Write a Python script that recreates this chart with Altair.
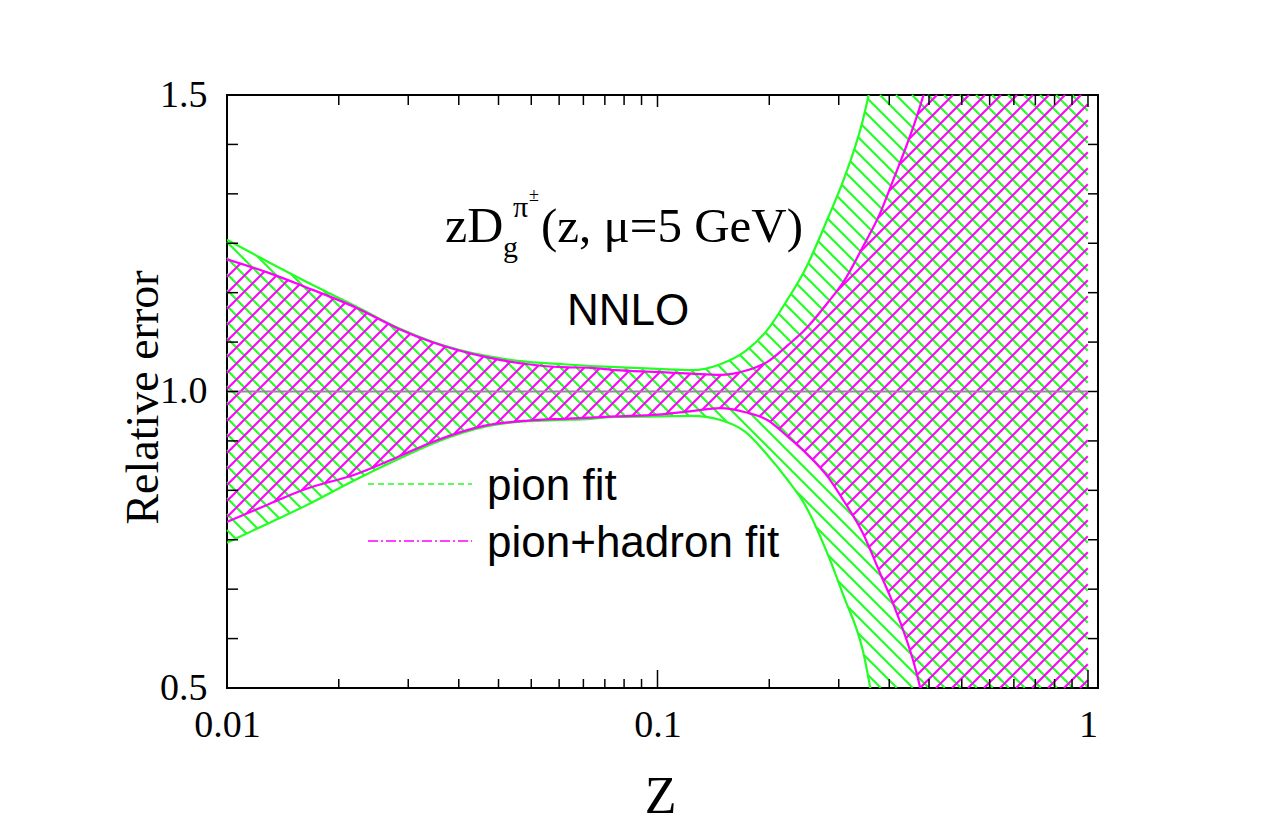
import numpy as np
import pandas as pd
import altair as alt

# Relative uncertainty bands of the gluon fragmentation function zD_g^{pi+-}
z = [0.01, 0.0125, 0.015, 0.02, 0.025, 0.03, 0.04, 0.05, 0.06, 0.07, 0.08,
     0.1, 0.12, 0.14, 0.16, 0.18, 0.2, 0.22, 0.25, 0.27, 0.3, 0.33, 0.35,
     0.4, 0.45, 0.5, 0.6, 0.8, 1.0]
pion_hi = [1.256, 1.218, 1.188, 1.143, 1.107, 1.084, 1.060, 1.050, 1.046, 1.043, 1.041,
           1.038, 1.036, 1.046, 1.068, 1.104, 1.154, 1.205, 1.296, 1.355, 1.458, 1.60, 1.70,
           1.95, 2.2, 2.45, 2.9, 3.8, 4.6]
pion_lo = [0.745, 0.778, 0.805, 0.852, 0.886, 0.912, 0.941, 0.950, 0.952, 0.954, 0.957,
           0.958, 0.959, 0.952, 0.932, 0.893, 0.852, 0.809, 0.721, 0.657, 0.563, 0.40, 0.30,
           0.05, -0.2, -0.45, -0.9, -1.8, -2.6]
hadron_hi = [1.223, 1.200, 1.178, 1.141, 1.106, 1.083, 1.058, 1.046, 1.041, 1.040, 1.036,
             1.033, 1.030, 1.028, 1.035, 1.050, 1.077, 1.104, 1.152, 1.184, 1.244, 1.303, 1.350,
             1.463, 1.59, 1.72, 2.0, 2.6, 3.2]
hadron_lo = [0.780, 0.810, 0.834, 0.861, 0.890, 0.915, 0.943, 0.951, 0.954, 0.956, 0.958,
             0.961, 0.967, 0.972, 0.965, 0.952, 0.925, 0.898, 0.854, 0.817, 0.761, 0.691, 0.648,
             0.525, 0.35, 0.21, -0.1, -0.6, -1.0]
central = [1.0, 1.0]
central_z = [z[0], z[-1]]

x_labels = [0.01, 0.1, 1]
y_labels = [0.5, 1.0, 1.5]
minor_steps = [1 + 9 * k / 11 for k in range(1, 11)]
x_minor = [d * m for d in (0.01, 0.1) for m in minor_steps]
y_minor = [0.5 + k / 12 for k in range(1, 12) if k != 6]

GREEN = "#22ff22"
MAGENTA = "#ff00ff"

W, H = 871, 593
X_DOM = [0.01, 1.055]
Y_DOM = [0.5, 1.5]
PX_DEC = W / np.log10(X_DOM[1] / X_DOM[0])
PX_Y = H / (Y_DOM[1] - Y_DOM[0])


def monotone_x(xn, yn, xq):
    """Evaluate the monotone cubic used for the edge lines (same as Vega's 'monotone')."""
    xn, yn = np.asarray(xn, float), np.asarray(yn, float)
    n = len(xn)
    h = np.diff(xn)
    s = np.diff(yn) / h
    t = np.zeros(n)
    sg = lambda a: -1.0 if a < 0 else 1.0
    for i in range(1, n - 1):
        h0, h1, s0, s1 = h[i - 1], h[i], s[i - 1], s[i]
        p = (s0 * h1 + s1 * h0) / (h0 + h1)
        t[i] = (sg(s0) + sg(s1)) * min(abs(s0), abs(s1), 0.5 * abs(p))
    t[0] = (3 * s[0] - t[1]) / 2
    t[-1] = (3 * s[-1] - t[-2]) / 2
    i = np.clip(np.searchsorted(xn, xq, side="right") - 1, 0, n - 2)
    dx = h[i]
    tau = (xq - xn[i]) / dx
    y0, y1 = yn[i], yn[i + 1]
    c1 = y0 + dx * t[i] / 3
    c2 = y1 - dx * t[i + 1] / 3
    om = 1 - tau
    return om ** 3 * y0 + 3 * om ** 2 * tau * c1 + 3 * om * tau ** 2 * c2 + tau ** 3 * y1


def hatch(lo_arr, hi_arr, spacing, sign, phase=0.0):
    """Straight 45-degree hatch segments clipped to the band between lo and hi."""
    u_nodes = PX_DEC * (np.log10(np.array(z)) - np.log10(X_DOM[0]))
    u = np.arange(0.0, u_nodes[-1] + 1e-9, 0.25)
    lo = np.clip(monotone_x(u_nodes, lo_arr, u), *Y_DOM)
    hi = np.clip(monotone_x(u_nodes, hi_arr, u), *Y_DOM)
    if sign > 0:
        cs = np.arange(-u_nodes[-1] + phase, H, spacing)
    else:
        cs = np.arange(phase, H + u_nodes[-1], spacing)
    rows = []
    for c in cs:
        py = sign * u + c
        v = Y_DOM[1] - py / PX_Y
        inside = (v >= lo - 1e-9) & (v <= hi + 1e-9)
        edges = np.flatnonzero(np.diff(np.concatenate([[0], inside.astype(int), [0]])))
        for a, b in zip(edges[::2], edges[1::2] - 1):
            if b > a:
                rows.append({
                    "z0": 10 ** (u[a] / PX_DEC + np.log10(X_DOM[0])), "v0": v[a],
                    "z1": 10 ** (u[b] / PX_DEC + np.log10(X_DOM[0])), "v1": v[b],
                })
    return pd.DataFrame(rows)


xs = alt.Scale(type="log", domain=X_DOM, nice=False)
ys = alt.Scale(domain=Y_DOM, nice=False, zero=False)

x_axis = alt.Axis(values=x_labels, format="~g", ticks=False, tickSize=0, domain=False,
                  grid=False, labelFont="Liberation Serif", labelFontSize=38,
                  labelColor="black", labelPadding=48, labelBaseline="alphabetic",
                  labelFlush=False, labelOverlap=False, title="Z",
                  titleFont="Liberation Serif", titleFontSize=52, titleFontWeight="normal",
                  titleColor="black", titleX=433, titleY=124, titleBaseline="alphabetic")
y_axis = alt.Axis(values=y_labels, format=".1f", ticks=False, tickSize=0, domain=False,
                  grid=False, labelFont="Liberation Serif", labelFontSize=38,
                  labelColor="black", labelPadding=20, labelFlush=False, labelOverlap=False,
                  title="Relative error", titleFont="Liberation Serif", titleFontSize=46,
                  titleFontWeight="normal", titleColor="black", titleAngle=270,
                  titleX=-70, titleY=302, titleBaseline="alphabetic", titleAlign="center")


def X(field):
    return alt.X(field, type="quantitative", scale=xs, axis=x_axis)


def Y(field):
    return alt.Y(field, type="quantitative", scale=ys, axis=y_axis)


green_hatch = alt.Chart(hatch(pion_lo, pion_hi, 16.0, +1)).mark_rule(
    color=GREEN, strokeWidth=2.1).encode(x=X("z0"), x2="z1", y=Y("v0"), y2="v1")
magenta_hatch = alt.Chart(hatch(hadron_lo, hadron_hi, 16.0, -1, 6.0)).mark_rule(
    color=MAGENTA, strokeWidth=2.1).encode(x=X("z0"), x2="z1", y=Y("v0"), y2="v1")

edges = pd.DataFrame({
    "z": z * 4,
    "v": pion_hi + pion_lo + hadron_hi + hadron_lo,
    "edge": ["pion_hi"] * len(z) + ["pion_lo"] * len(z)
            + ["hadron_hi"] * len(z) + ["hadron_lo"] * len(z),
})
green_edges = alt.Chart(edges[edges.edge.str.startswith("pion")]).mark_line(
    color=GREEN, strokeWidth=2.2, clip=True, interpolate="monotone").encode(
    x=X("z"), y=Y("v"), detail="edge:N")
magenta_edges = alt.Chart(edges[edges.edge.str.startswith("hadron")]).mark_line(
    color=MAGENTA, strokeWidth=2.2, clip=True, interpolate="monotone").encode(
    x=X("z"), y=Y("v"), detail="edge:N")

center = alt.Chart(pd.DataFrame({"z": central_z, "v": central})).mark_line(
    color="#a57ca5", strokeWidth=1.8).encode(x=X("z"), y=Y("v"))

# inward ticks on all four sides of the frame
xt_major = pd.DataFrame({"t": x_labels})
xt_minor = pd.DataFrame({"t": x_minor})
yt_minor = pd.DataFrame({"t": y_minor})
yt_major = pd.DataFrame({"t": [1.0]})
tick_style = dict(color="black", strokeWidth=1.5)
ticks = [
    alt.Chart(xt_major).mark_rule(**tick_style).encode(x=X("t"), y=alt.value(H), y2=alt.value(H - 18)),
    alt.Chart(xt_minor).mark_rule(**tick_style).encode(x=X("t"), y=alt.value(H), y2=alt.value(H - 9)),
    alt.Chart(xt_major).mark_rule(**tick_style).encode(x=X("t"), y=alt.value(0), y2=alt.value(12)),
    alt.Chart(xt_minor).mark_rule(**tick_style).encode(x=X("t"), y=alt.value(0), y2=alt.value(10)),
    alt.Chart(yt_major).mark_rule(**tick_style).encode(y=Y("t"), x=alt.value(0), x2=alt.value(11)),
    alt.Chart(yt_minor).mark_rule(**tick_style).encode(y=Y("t"), x=alt.value(0), x2=alt.value(11)),
    alt.Chart(yt_major).mark_rule(**tick_style).encode(y=Y("t"), x=alt.value(W), x2=alt.value(W - 10)),
    alt.Chart(yt_minor).mark_rule(**tick_style).encode(y=Y("t"), x=alt.value(W), x2=alt.value(W - 10)),
]


def label(text, x, y, font, size):
    return alt.Chart(pd.DataFrame({"label": [text]})).mark_text(
        font=font, fontSize=size, align="left", baseline="alphabetic", color="black"
    ).encode(x=alt.value(x), y=alt.value(y), text="label:N")


SERIF = "Liberation Serif"
SANS = "Liberation Sans"
texts = [
    label("zD", 218, 147, SERIF, 50),
    label("g", 276, 162, SERIF, 30),
    label("π", 286, 122, SERIF, 30),
    label("±", 302, 106, SERIF, 18),
    label("(z, μ=5 GeV)", 314, 147, SERIF, 49),
    label("NNLO", 340, 230, SANS, 44),
    label("pion fit", 260, 405, SANS, 44),
    label("pion+hadron fit", 260, 462, SANS, 44),
]
legend_lines = [
    alt.Chart(pd.DataFrame({"s": ["pion fit"]})).mark_rule(
        color=GREEN, strokeWidth=1.5, strokeDash=[6, 4]).encode(
        x=alt.value(141), x2=alt.value(245), y=alt.value(389), detail="s:N"),
    alt.Chart(pd.DataFrame({"s": ["pion+hadron fit"]})).mark_rule(
        color=MAGENTA, strokeWidth=1.5, strokeDash=[10, 3, 2, 3]).encode(
        x=alt.value(141), x2=alt.value(245), y=alt.value(446), detail="s:N"),
]

chart = alt.layer(
    green_hatch, magenta_hatch, green_edges, magenta_edges, center,
    *ticks, *legend_lines, *texts
).properties(
    width=W, height=H,
    autosize=alt.AutoSizeParams(type="none"),
    padding={"left": 227, "top": 95, "right": 177, "bottom": 137},
    background="white",
).configure_view(stroke="black", strokeWidth=2)

chart.save("out.html", embed_options={"renderer": "svg", "actions": False})
